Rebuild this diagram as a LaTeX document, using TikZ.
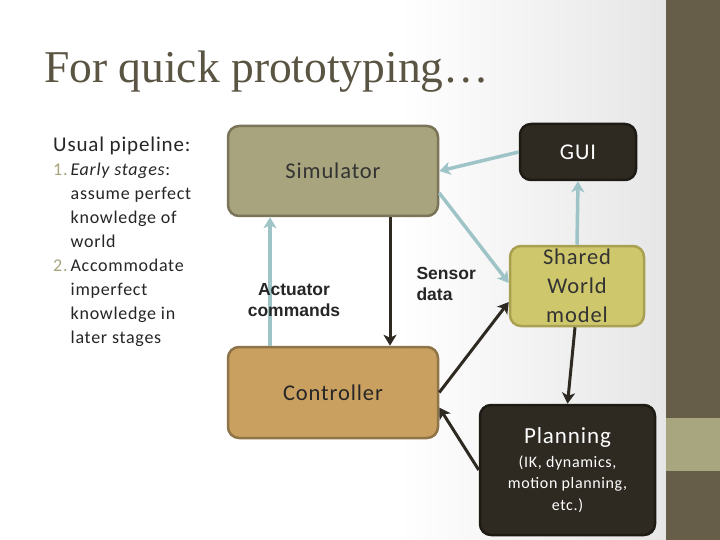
\documentclass[tikz,border=0pt]{standalone}
\usepackage{fontspec}
\setmainfont{Carlito}[LetterSpace=4]
\newfontfamily\lab{Liberation Sans}
\newfontfamily\ttl{Liberation Serif}
\usetikzlibrary{arrows.meta,calc}
\definecolor{simfill}{HTML}{A8A47E}
\definecolor{simdraw}{HTML}{7A7458}
\definecolor{darkfill}{HTML}{2E2A22}
\definecolor{darkdraw}{HTML}{1E1B15}
\definecolor{swmfill}{HTML}{CFC76C}
\definecolor{swmdraw}{HTML}{A9A052}
\definecolor{ctrlfill}{HTML}{C9A060}
\definecolor{ctrldraw}{HTML}{8E7448}
\definecolor{lblue}{HTML}{9EC4C8}
\definecolor{darrow}{HTML}{2E2A22}
\definecolor{side}{HTML}{665E48}
\definecolor{sideband}{HTML}{A8A67E}
\definecolor{titlec}{HTML}{5A5442}
\definecolor{numc}{HTML}{A8A47E}
\definecolor{bgr}{HTML}{E6E6E6}
\tikzset{
  boxs/.style={rounded corners=11pt, line width=2.5pt, align=center, inner sep=0pt},
  blue arrow/.style={draw=lblue, line width=3.5pt, -{Stealth[length=11pt,width=13pt,inset=3pt]}},
  dark arrow/.style={draw=darrow, line width=3pt, -{Stealth[length=11pt,width=13pt,inset=3pt]}},
  lbl/.style={font=\lab\bfseries\fontsize{17.5}{21}\selectfont, text=black!85, align=left},
}
\begin{document}
\begin{tikzpicture}[x=1pt,y=-1pt]
\useasboundingbox (0,0) rectangle (720,540);
\fill[white] (0,0) rectangle (400,540);
\shade[left color=white, right color=bgr] (399,0) rectangle (667,540);
\fill[side] (666,0) rectangle (720,540);
\fill[sideband] (666,418) rectangle (720,471);

\node[anchor=base west, text=titlec, font=\ttl\fontsize{45.5}{48}\selectfont, inner sep=0pt] (title) at (44,83) {For quick prototyping\ldots};

\node[anchor=base west, text=black!85, font=\fontsize{21}{24}\selectfont, inner sep=0pt] (usual) at (53,152) {Usual pipeline:};
\node[anchor=north west, text=black!85, font=\fontsize{18}{24}\selectfont, inner sep=0pt, align=left] (list) at (53,163)
{\textcolor{numc}{1.}\,\textit{Early stages}:\\
\hspace*{17.5pt}assume perfect\\
\hspace*{17.5pt}knowledge of\\
\hspace*{17.5pt}world\\
\textcolor{numc}{2.}\,Accommodate\\
\hspace*{17.5pt}imperfect\\
\hspace*{17.5pt}knowledge in\\
\hspace*{17.5pt}later stages};

\node[boxs, fill=simfill, draw=simdraw, minimum width=210pt, minimum height=90pt, font=\fontsize{22.5}{24}\selectfont, text=black!80] (sim) at (333,171) {Simulator};
\node[boxs, fill=darkfill, draw=darkdraw, minimum width=116pt, minimum height=56pt, font=\fontsize{22.5}{24}\selectfont, text=white] (gui) at (578,152) {GUI};
\node[boxs, fill=swmfill, draw=swmdraw, minimum width=134pt, minimum height=80pt, font=\fontsize{22.5}{29}\selectfont, text=black!80] (swm) at (577,286) {Shared\\World\\model};
\node[boxs, fill=ctrlfill, draw=ctrldraw, minimum width=210pt, minimum height=91pt, font=\fontsize{22.5}{24}\selectfont, text=black!85] (ctrl) at (333,392.5) {Controller};
\node[boxs, fill=darkfill, draw=darkdraw, minimum width=175pt, minimum height=130pt, text=white, font=\fontsize{16}{21.5}\selectfont] (plan) at (567.5,470) {{\fontsize{23}{26}\selectfont Planning}\\[2pt](IK, dynamics,\\motion planning,\\etc.)};

\draw[blue arrow] (gui.west) -- (sim.east);
\draw[blue arrow] ([yshift=-22pt]sim.east) -- ([yshift=3pt]swm.west);
\draw[blue arrow] (swm.north) -- (gui.south);
\draw[blue arrow] ([xshift=-63pt]ctrl.north) -- ([xshift=-63pt]sim.south);
\draw[dark arrow] ([xshift=57pt]sim.south) -- ([xshift=57pt]ctrl.north);
\draw[dark arrow] (ctrl.east) -- ([yshift=-16pt]swm.west);
\draw[dark arrow] ([xshift=-2pt]swm.south) -- (plan.north);
\draw[dark arrow] (plan.west) -- ([yshift=-15pt]ctrl.east);

\node[lbl, align=center] (act) at (294,300) {Actuator\\commands};
\node[lbl, anchor=north west] (sens) at (413,264) {Sensor\\data};
\end{tikzpicture}
\end{document}
